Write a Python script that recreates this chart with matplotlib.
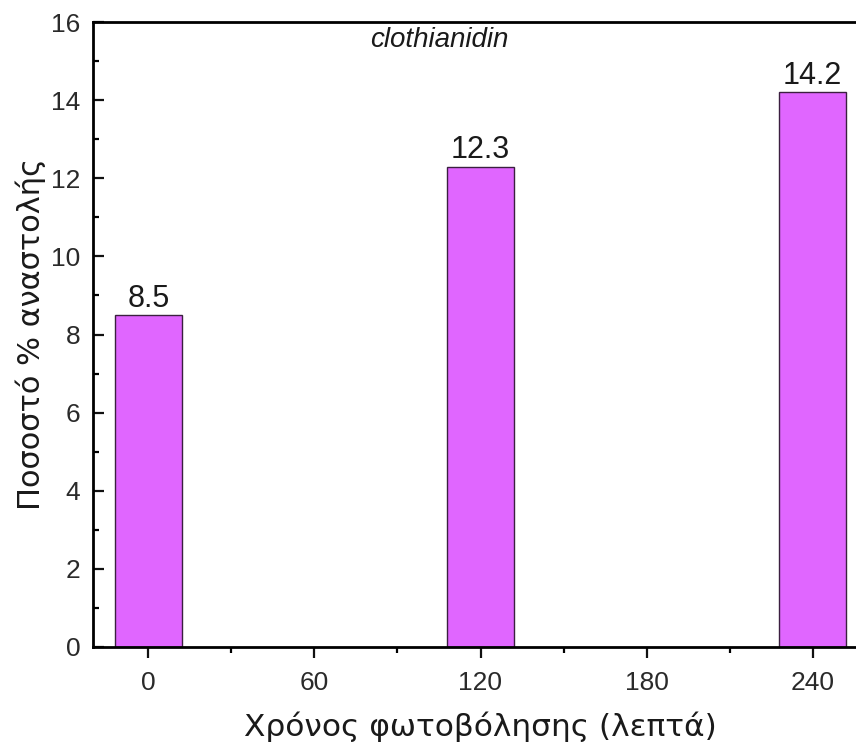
import matplotlib
matplotlib.use("Agg")
import matplotlib.pyplot as plt
from matplotlib.ticker import MultipleLocator

# Irradiation time (min) and inhibition percentage
times = [0, 120, 240]
inhibition = [8.5, 12.3, 14.2]
labels = ["8.5", "12.3", "14.2"]
xticks = [0, 60, 120, 180, 240]
yticks = [0, 2, 4, 6, 8, 10, 12, 14, 16]

W, H = 856, 747
fig = plt.figure(figsize=(W / 100, H / 100), dpi=100)
ax = fig.add_axes([93 / W, 100 / H, 775 / W, 625 / H])

ax.bar(times, inhibition, width=24, color="#E066FF", edgecolor="#3b1f40",
       linewidth=1.0, zorder=2)

for x, v, s in zip(times, inhibition, labels):
    ax.annotate(s, (x, v), xytext=(0, 1), textcoords="offset points",
                ha="center", va="bottom", fontsize=22,
                family="Liberation Sans", color="#1a1a1a")

ax.text(105, 15.55, "clothianidin", ha="center", va="center", fontsize=20,
        style="italic", family="Liberation Sans", color="#1a1a1a")

ax.set_xlim(-20, 260)
ax.set_ylim(0, 16)
ax.set_xticks(xticks)
ax.set_yticks(yticks)
ax.xaxis.set_minor_locator(MultipleLocator(30))
ax.yaxis.set_minor_locator(MultipleLocator(1))

for side in ax.spines.values():
    side.set_linewidth(2.0)

ax.tick_params(axis="x", which="major", direction="out", length=8, width=1.6,
               labelsize=19, pad=9, colors="#111111", labelcolor="#2a2a2a")
ax.tick_params(axis="x", which="minor", direction="out", length=4, width=1.6)
ax.tick_params(axis="y", which="major", direction="in", length=8, width=1.6,
               labelsize=19, pad=9, colors="#111111", labelcolor="#2a2a2a")
ax.tick_params(axis="y", which="minor", direction="in", length=4, width=1.6)
for lab in ax.get_xticklabels() + ax.get_yticklabels():
    lab.set_family("Liberation Sans")

ax.set_xlabel("Χρόνος φωτοβόλησης (λεπτά)", fontsize=22.5, family="DejaVu Sans",
              labelpad=12, color="#1a1a1a")
ax.set_ylabel("Ποσοστό % αναστολής", fontsize=22, family="DejaVu Sans",
              labelpad=4, color="#1a1a1a")

fig.savefig("out.png", dpi=100)
